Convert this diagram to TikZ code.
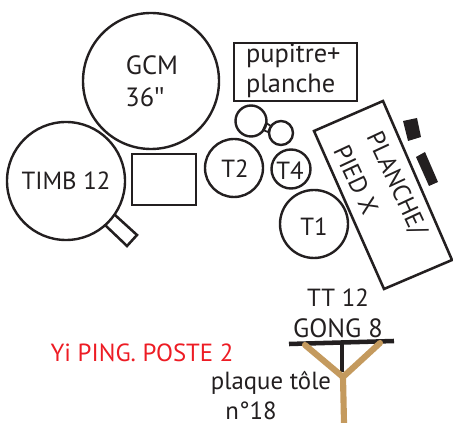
\documentclass[tikz,border=0pt]{standalone}
\usepackage{fontspec}
\setmainfont{PT Sans}
\newfontfamily\symfont{Open Sans}
\definecolor{ink}{HTML}{231F20}
\definecolor{tan}{HTML}{C49A5E}
\definecolor{redt}{HTML}{ED1C24}
\tikzset{
  lbl/.style={text=ink,font=\fontsize{18.6pt}{22pt}\selectfont,inner sep=0pt,outer sep=0pt},
  lblbig/.style={lbl,font=\fontsize{19.8pt}{22pt}\selectfont},
  ring/.style={circle,draw=ink,line width=1.8pt,inner sep=0pt,outer sep=0pt,minimum size=#1*1.5pt},
  thick line/.style={draw=ink,line width=1.9pt,line join=miter},
  tanbar/.style={draw=tan,line width=4.6pt,line cap=round}
}
\begin{document}
\begin{tikzpicture}[x=0.75pt,y=-0.75pt]
\useasboundingbox (0,0) rectangle (453,423);
\node[ring=68] (gcm) at (151,81) {};
\node[ring=59] (timb) at (66,181) {};
\node[ring=15.5] (c1) at (251,121) {};
\node[ring=12] (c2) at (281,133) {};
\node[ring=29] (t2) at (234,168) {};
\node[ring=19.5] (t4) at (291,169) {};
\node[ring=34] (t1) at (314,224) {};
\draw[thick line] (132,154) rectangle (196,205);
\draw[thick line,line width=2.2pt] (234,43) rectangle (357,101);
\draw[thick line] (115,215) -- (137,235) -- (127,246) -- (105,225);
\draw[thick line,line width=1.3pt] (266,123) -- (271,126) -- (268,132) -- (263,130) -- cycle;
\draw[thick line] (314,131) -- (383,101) -- (452,260) -- (384,289) -- cycle;
\fill[ink] (403,121) -- (417,118) -- (421,137) -- (408,141) -- cycle;
\fill[ink] (416,157) -- (425,152) -- (438,182) -- (429,186) -- cycle;
\draw[draw=ink,line width=3.4pt] (289,344) -- (394,341);
\coordinate (fork) at (343,377);
\draw[draw=ink,line width=3pt] (342,343) -- (342,372);
\draw[tanbar] (305,345) -- (fork) -- (380,343);
\draw[tanbar,line cap=butt] (fork) -- (344,423);
\node[lblbig,anchor=center] (tg) at (152,65) {GCM};
\node[lblbig,anchor=center] (tg2) at (145,97) {36{\symfont ″}};
\node[lbl] (tt) at (66,181) {TIMB 12};
\node[lbl] (tt2) at (235,169) {T2};
\node[lbl] (tt4) at (290,171) {T4};
\node[lbl] (tt1) at (314,227) {T1};
\node[lblbig,anchor=west] (p1) at (246,56) {pupitre+};
\node[lblbig,anchor=west] (p2) at (246,86) {planche};
\node[lbl,rotate=-65] (pl1) at (396,184) {PLANCHE/};
\node[lbl,rotate=-65] (pl2) at (356,180) {PIED X};
\node[lbl] (a1) at (338,298) {TT 12};
\node[lblbig] (a2) at (338,328) {GONG 8};
\node[lbl,text=redt] (y) at (142,353) {Yi PING. POSTE 2};
\node[lbl] (q1) at (271,383) {plaque tôle};
\node[lbl] (q2) at (251,411) {n°18};
\end{tikzpicture}
\end{document}
